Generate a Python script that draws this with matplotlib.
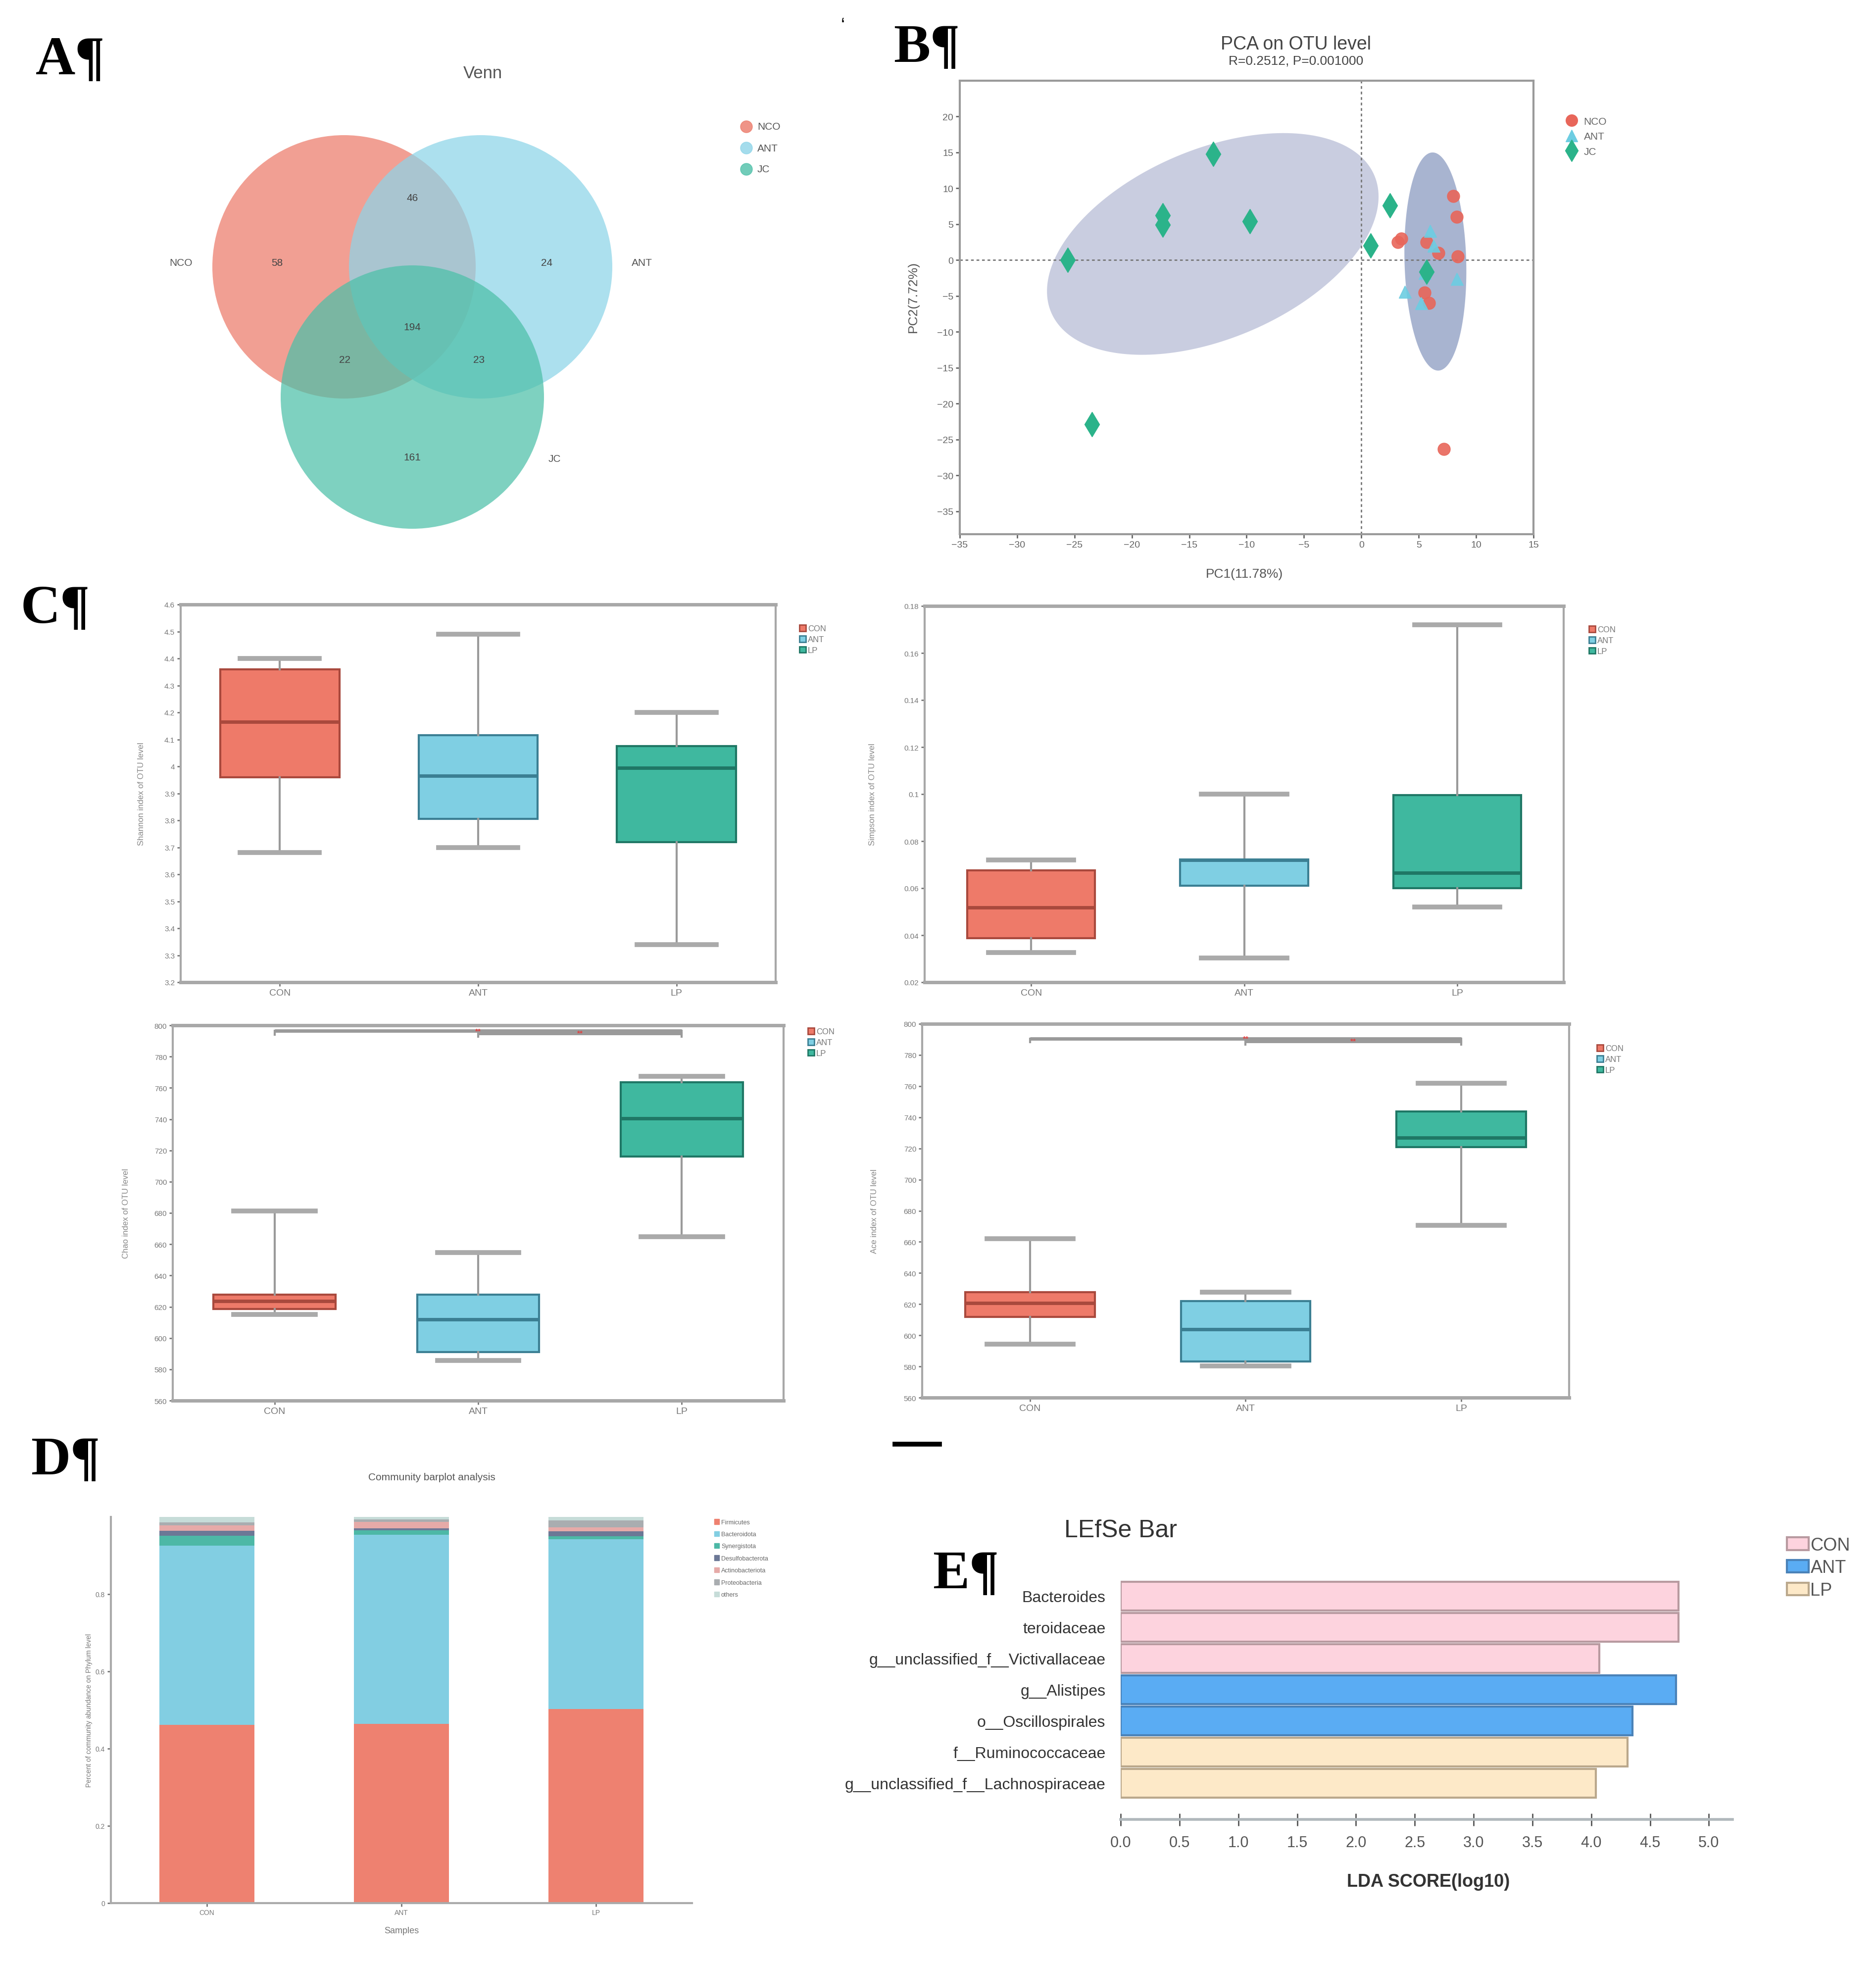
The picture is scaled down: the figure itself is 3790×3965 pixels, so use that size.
import numpy as np
import matplotlib.pyplot as plt
from matplotlib.patches import Circle, Patch, Polygon
from matplotlib.lines import Line2D

plt.rcParams['font.family'] = ['Liberation Sans', 'DejaVu Sans']

W, H = 3791, 3966

## ---- data ----
# Venn (A)
venn_sets = ['NCO', 'ANT', 'JC']
venn_counts = {'NCO': 58, 'ANT': 24, 'JC': 161, 'NCO&ANT': 46,
               'NCO&JC': 22, 'ANT&JC': 23, 'all': 194}

# PCA (B)
nco_pc1 = [8.0, 8.3, 3.5, 3.2, 5.7, 6.7, 8.4, 7.2, 5.5, 5.9]
nco_pc2 = [8.9, 6.0, 3.0, 2.5, 2.5, 1.0, 0.5, -26.3, -4.5, -6.0]
ant_pc1 = [6.0, 5.5, 3.8, 8.3, 6.3, 5.2]
ant_pc2 = [4.1, -1.8, -4.4, -2.6, 2.0, -6.0]
jc_pc1 = [-25.6, -17.3, -17.3, -12.9, -9.7, -23.5, 2.5, 0.8, 5.7]
jc_pc2 = [0.0, 6.2, 4.9, 14.8, 5.4, -22.9, 7.6, 2.0, -1.6]

# alpha diversity boxes (C): whislo, q1, med, q3, whishi
groups = ['CON', 'ANT', 'LP']
shannon = [[3.68, 3.96, 4.165, 4.36, 4.40],
           [3.70, 3.805, 3.965, 4.115, 4.49],
           [3.34, 3.72, 3.995, 4.075, 4.20]]
simpson = [[0.0327, 0.0387, 0.0518, 0.0675, 0.072],
           [0.0303, 0.061, 0.072, 0.0723, 0.0999],
           [0.052, 0.0599, 0.0665, 0.0995, 0.172]]
chao = [[615.1, 618.7, 623.5, 627.9, 681.4],
        [585.8, 591.1, 611.9, 627.6, 654.6],
        [664.9, 716.1, 740.4, 763.6, 767.5]]
ace = [[594.4, 611.7, 620.7, 627.8, 662.0],
       [580.5, 583.2, 604.0, 621.9, 627.8],
       [670.6, 721.0, 726.8, 743.8, 762.0]]

# community barplot (D)
phyla = ['Firmicutes', 'Bacteroidota', 'Synergistota', 'Desulfobacterota',
         'Actinobacteriota', 'Proteobacteria', 'others']
firmicutes = [0.462, 0.464, 0.502]
bacteroidota = [0.464, 0.490, 0.440]
synergistota = [0.025, 0.011, 0.008]
desulfobacterota = [0.013, 0.006, 0.013]
actinobacteriota = [0.014, 0.016, 0.010]
proteobacteria = [0.008, 0.006, 0.018]
others = [0.014, 0.007, 0.009]

# LEfSe (E)
taxa = ['Bacteroides', 'teroidaceae', 'g__unclassified_f__Victivallaceae',
        'g__Alistipes', 'o__Oscillospirales', 'f__Ruminococcaceae',
        'g__unclassified_f__Lachnospiraceae']
lda = [4.74, 4.74, 4.07, 4.72, 4.35, 4.31, 4.04]
taxa_group = ['CON', 'CON', 'CON', 'ANT', 'ANT', 'LP', 'LP']

## ---- helpers ----
fig = plt.figure(figsize=(W / 100, H / 100), dpi=100)


def add_ax(l, t, r, b):
    return fig.add_axes([l / W, 1 - b / H, (r - l) / W, (b - t) / H])


def ftext(x, y, s, **kw):
    fig.text(x / W, 1 - y / H, s, **kw)


grey = '#9a9a9a'
txtc = '#555555'

# panel letters
for lab, x, y in [('A¶', 72, 150), ('B¶', 1805, 125), ('C¶', 42, 1258),
                  ('D¶', 62, 2978), ('E¶', 1884, 3208)]:
    ftext(x, y, lab, family='Liberation Serif', weight='bold', fontsize=80,
          va='baseline', ha='left', color='black')
ftext(1703, 62, '\u2018', fontsize=26, color='black', ha='center')
fig.add_artist(Line2D([1808 / W, 1898 / W], [1 - 2918 / H, 1 - 2918 / H],
                      color='black', lw=7))

## ---- A: Venn ----
ax = add_ax(0, 0, 1750, 1150)
ax.set_xlim(0, 1750)
ax.set_ylim(1150, 0)
ax.axis('off')
vcol = {'NCO': '#ec7a69', 'ANT': '#8dd4e8', 'JC': '#4dc0a8'}
vpos = {'NCO': (695, 540), 'ANT': (971, 540), 'JC': (833, 803)}
for s in venn_sets:
    ax.add_patch(Circle(vpos[s], 266, color=vcol[s], alpha=0.72, lw=0))
num_pos = {'NCO': (560, 532), 'ANT': (1105, 532), 'JC': (833, 925),
           'NCO&ANT': (833, 400), 'NCO&JC': (697, 728), 'ANT&JC': (968, 728),
           'all': (833, 662)}
for k, v in venn_counts.items():
    ax.text(*num_pos[k], str(v), ha='center', va='center', fontsize=15,
            color='#444444')
ax.text(365, 532, 'NCO', ha='center', va='center', fontsize=15, color=txtc)
ax.text(1297, 532, 'ANT', ha='center', va='center', fontsize=15, color=txtc)
ax.text(1120, 928, 'JC', ha='center', va='center', fontsize=15, color=txtc)
ax.text(975, 148, 'Venn', ha='center', va='center', fontsize=25, color=txtc)
for i, s in enumerate(venn_sets):
    ax.add_patch(Circle((1508, 257 + 43 * i), 12, color=vcol[s], alpha=0.8))
    ax.text(1530, 257 + 43 * i, s, va='center', fontsize=15, color=txtc)

## ---- B: PCA ----
ax = add_ax(1939, 164, 3098, 1080)
ax.set_xlim(-35, 15)
ax.set_ylim(-38.2, 25)


def ell(cx, cy, ax_, ay_, d):
    t = np.linspace(0, 2 * np.pi, 200)
    return np.column_stack([cx + ax_ * np.cos(t), cy + ay_ * np.cos(t - d)])


ax.add_patch(Polygon(ell(-12.95, 2.25, 14.45, 15.45, 1.13), closed=True,
                     color='#b8bdd6', alpha=0.75, lw=0, zorder=1))
ax.add_patch(Polygon(ell(6.45, -0.2, 2.7, 15.2, 1.66), closed=True,
                     color='#8494bd', alpha=0.7, lw=0, zorder=1))
ax.axhline(0, color='#777777', ls=(0, (2, 2)), lw=2, zorder=2)
ax.axvline(0, color='#777777', ls=(0, (2, 2)), lw=2, zorder=2)
ax.plot(nco_pc1, nco_pc2, 'o', color='#e8665a', ms=18, alpha=0.9, zorder=3)
ax.plot(ant_pc1, ant_pc2, '^', color='#6dcde2', ms=18, alpha=0.9, zorder=3)
ax.plot(jc_pc1, jc_pc2, 'd', color='#2bb38a', ms=25, zorder=4)
ax.set_xticks(np.arange(-35, 16, 5))
ax.set_yticks(np.arange(-35, 21, 5))
ax.tick_params(labelsize=14, colors='#666666', length=6, width=2)
for sp in ax.spines.values():
    sp.set_color(grey)
    sp.set_linewidth(3)
ftext(2618, 90, 'PCA on OTU level', fontsize=27, color='#444444',
      ha='center', va='center')
ftext(2618, 124, 'R=0.2512, P=0.001000', fontsize=19, color='#444444',
      ha='center', va='center')
ftext(2514, 1160, 'PC1(11.78%)', fontsize=19, color='#555555', ha='center',
      va='center')
ftext(1845, 600, 'PC2(7.72%)', fontsize=19, color='#555555', ha='center',
      va='center', rotation=90)
handles = [Line2D([], [], marker='o', ls='', color='#e8665a', ms=17),
           Line2D([], [], marker='^', ls='', color='#6dcde2', ms=17),
           Line2D([], [], marker='d', ls='', color='#2bb38a', ms=22)]
fig.legend(handles, venn_sets, loc='upper left',
           bbox_to_anchor=(3135 / W, 1 - 218 / H), frameon=False,
           fontsize=15, labelcolor='#666666', handletextpad=0.2,
           labelspacing=0.55)

## ---- C: boxplots ----
fill = ['#ee7a69', '#7fcfe3', '#3fb89f']
edge = ['#a9493d', '#3b7f93', '#1f7765']


def boxpanel(box, stats, ylim, yticks, ylabel, ylab_x, leg_xy, sig=None):
    l, t, r, b = box
    ax = add_ax(l, t, r, b)
    bx = []
    for i, s in enumerate(stats):
        bx.append({'whislo': s[0], 'q1': s[1], 'med': s[2], 'q3': s[3],
                   'whishi': s[4], 'fliers': [], 'label': groups[i]})
    art = ax.bxp(bx, positions=range(3), widths=0.6, patch_artist=True,
                 showfliers=False,
                 whiskerprops=dict(color=grey, lw=3),
                 capprops=dict(color='#aaaaaa', lw=7),
                 capwidths=0.4)
    for i in range(3):
        art['boxes'][i].set_facecolor(fill[i])
        art['boxes'][i].set_edgecolor(edge[i])
        art['boxes'][i].set_linewidth(3)
        art['medians'][i].set_color(edge[i])
        art['medians'][i].set_linewidth(5)
    ax.set_xlim(-0.5, 2.5)
    ax.set_ylim(*ylim)
    ax.set_yticks(yticks)
    ax.set_yticklabels([f'{v:g}' for v in yticks])
    ax.tick_params(axis='y', labelsize=11, colors='#777777', length=5, width=2)
    ax.tick_params(axis='x', labelsize=14, colors='#777777', length=6, width=2)
    for k, sp in ax.spines.items():
        sp.set_color('#a8a8a8')
        sp.set_linewidth(5 if k in ('top', 'bottom') else 3)
    ax.set_ylabel(ylabel, fontsize=12, color='#888888')
    ax.yaxis.set_label_coords((ylab_x - l) / (r - l), 0.5)
    if sig is not None:
        for x0, x1, y in sig:
            ax.plot([x0, x1], [y, y], color=grey, lw=5, solid_capstyle='butt')
            ax.plot([x0, x0], [y, y - (ylim[1] - ylim[0]) * 0.01], color=grey, lw=3)
            ax.plot([x1, x1], [y, y - (ylim[1] - ylim[0]) * 0.01], color=grey, lw=3)
            ax.text((x0 + x1) / 2, y, '**', color='#e04040', fontsize=11,
                    ha='center', va='center', weight='bold')
    hs = [Patch(facecolor=fill[i], edgecolor=edge[i], lw=2) for i in range(3)]
    fig.legend(hs, groups, loc='upper left',
               bbox_to_anchor=(leg_xy[0] / W, 1 - leg_xy[1] / H),
               frameon=False, fontsize=12, labelcolor='#777777',
               handlelength=0.8, handleheight=0.8, handletextpad=0.2,
               labelspacing=0.4)
    return ax


boxpanel((365, 1222, 1567, 1985), shannon, (3.2, 4.6),
         np.round(np.arange(3.2, 4.61, 0.1), 1), 'Shannon index of OTU level',
         293, (1600, 1248))
boxpanel((1868, 1225, 3159, 1985), simpson, (0.02, 0.18),
         np.round(np.arange(0.02, 0.181, 0.02), 2), 'Simpson index of OTU level',
         1770, (3195, 1250))
boxpanel((349, 2072, 1583, 2830), chao, (560, 800),
         np.arange(560, 801, 20), 'Chao index of OTU level',
         262, (1617, 2062), sig=[(0, 2, 796.5), (1, 2, 795.0)])
boxpanel((1863, 2069, 3170, 2824), ace, (560, 800),
         np.arange(560, 801, 20), 'Ace index of OTU level',
         1774, (3211, 2096), sig=[(0, 2, 790.5), (1, 2, 789.0)])

## ---- D: community barplot ----
ax = add_ax(224, 3065, 1398, 3845)
layers = [firmicutes, bacteroidota, synergistota, desulfobacterota,
          actinobacteriota, proteobacteria, others]
pcol = ['#ee8170', '#82cee2', '#4db8a6', '#6c7896', '#e6aaa8', '#a9adb0',
        '#c6dcd8']
bottom = np.zeros(3)
for vals, c, name in zip(layers, pcol, phyla):
    ax.bar(range(3), vals, bottom=bottom, width=0.49, color=c, label=name)
    bottom += np.array(vals)
ax.set_xlim(-0.494, 2.494)
ax.set_ylim(0, 1.0)
ax.set_xticks(range(3))
ax.set_xticklabels(groups)
ax.set_yticks([0, 0.2, 0.4, 0.6, 0.8])
ax.set_yticklabels(['0', '0.2', '0.4', '0.6', '0.8'])
ax.tick_params(labelsize=10, colors='#777777', length=5, width=2)
for k in ('top', 'right'):
    ax.spines[k].set_visible(False)
for k in ('left', 'bottom'):
    ax.spines[k].set_color('#aaaaaa')
    ax.spines[k].set_linewidth(3)
ax.set_ylabel('Percent of community abundance on Phylum level', fontsize=10,
              color='#777777')
ax.set_xlabel('Samples', fontsize=13, color='#777777')
ax.xaxis.set_label_coords(0.5, -0.06)
ftext(872, 2984, 'Community barplot analysis', fontsize=15, color='#555555',
      ha='center', va='center')
hs = [Patch(color=c) for c in pcol]
fig.legend(hs, phyla, loc='upper left', bbox_to_anchor=(1432 / W, 1 - 3058 / H),
           frameon=False, fontsize=9, labelcolor='#666666', handlelength=0.8,
           handleheight=0.9, handletextpad=0.3, labelspacing=0.95)

## ---- E: LEfSe ----
ax = add_ax(2264, 3185, 3500, 3676)
gcol = {'CON': '#fdd3de', 'ANT': '#5aacf3', 'LP': '#fde9c8'}
gedge = {'CON': '#b89aa0', 'ANT': '#4a82b8', 'LP': '#baa88c'}
ax.barh(range(len(taxa)), lda, height=0.92,
        color=[gcol[g] for g in taxa_group],
        edgecolor=[gedge[g] for g in taxa_group], lw=3)
ax.set_ylim(7.16, -0.63)
ax.set_xlim(0, 5.2)
ax.set_yticks(range(len(taxa)))
ax.set_yticklabels(taxa, fontsize=23, color='#333333')
ax.tick_params(axis='y', length=0, pad=22)
ax.set_xticks(np.arange(0, 5.01, 0.5))
ax.set_xticklabels([f'{v:.1f}' for v in np.arange(0, 5.01, 0.5)])
ax.tick_params(axis='x', labelsize=22, colors='#555555', direction='inout',
               length=18, width=2, pad=14)
for k in ('top', 'right', 'left'):
    ax.spines[k].set_visible(False)
ax.spines['bottom'].set_color('#b0b8bc')
ax.spines['bottom'].set_linewidth(4)
ax.set_xlabel('LDA SCORE(log10)', fontsize=26, weight='bold', color='#333333')
ax.xaxis.set_label_coords((2886 - 2264) / (3500 - 2264), -0.22)
ftext(2264, 3092, 'LEfSe Bar', fontsize=36, color='#333333', ha='center',
      va='center')
hs = [Patch(facecolor=gcol[g], edgecolor=gedge[g], lw=3) for g in groups]
fig.legend(hs, groups, loc='upper left', bbox_to_anchor=(3578 / W, 1 - 3072 / H),
           frameon=False, fontsize=26, labelcolor='#555555', handlelength=1.2,
           handleheight=0.7, handletextpad=0.1, labelspacing=0.3)

fig.savefig('out.png', dpi=100, facecolor='white')
